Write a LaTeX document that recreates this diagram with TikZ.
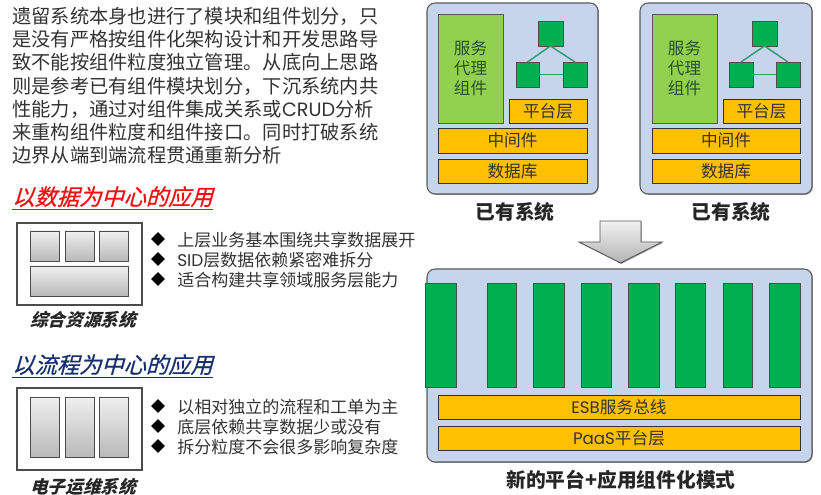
\documentclass[tikz,border=0pt]{standalone}
\usepackage{fontspec}
\usetikzlibrary{shapes.geometric,shadows}
\setmainfont{Noto Sans CJK SC}
\newfontfamily\latfont{Poppins}
\newfontfamily\slantfont[FakeSlant=0.28]{Noto Sans CJK SC}
\newfontfamily\titlefont[FakeSlant=0.28,FakeBold=0.7]{Noto Sans CJK SC}
\definecolor{panelblue}{HTML}{C6D5EC}
\definecolor{bargold}{HTML}{FFC000}
\definecolor{compgreen}{HTML}{00B050}
\definecolor{leafgreen}{HTML}{92D050}
\definecolor{linkgreen}{HTML}{2F9F6F}
\definecolor{bodygrey}{HTML}{333333}
\definecolor{darkred}{HTML}{F01010}
\definecolor{darknavy}{HTML}{17306F}
\tikzset{
	wd/.style={minimum width=#1*0.75pt},
	ht/.style={minimum height=#1*0.75pt},
	softshadow/.style={drop shadow={shadow xshift=0.7pt,shadow yshift=-0.7pt,opacity=0.35,fill=black}},
	panel/.style={draw=black!65,line width=0.8pt,rounded corners=6pt,fill=panelblue,inner sep=0pt,outer sep=0pt,softshadow},
	goldbar/.style={draw=black!80,line width=0.6pt,fill=bargold,inner sep=0pt,outer sep=0pt,font=\fontsize{12.5}{15}\selectfont,text=bodygrey,softshadow},
	leafbox/.style={draw=black!65,line width=0.5pt,fill=leafgreen,inner sep=0pt,outer sep=0pt,align=center,font=\fontsize{12.4}{15}\selectfont,text=bodygrey!85!green,softshadow},
	compbox/.style={draw=black!70,line width=0.6pt,fill=compgreen,inner sep=0pt,outer sep=0pt,softshadow},
	linkline/.style={draw=linkgreen,line width=1.1pt},
	framebox/.style={draw=black!70,line width=0.8pt,fill=white,inner sep=0pt,outer sep=0pt,softshadow},
	greybox/.style={draw=black!70,line width=0.6pt,top color=gray!12,bottom color=gray!55,inner sep=0pt,outer sep=0pt,softshadow},
	bulletmark/.style={diamond,fill=black,inner sep=0pt,minimum width=10.5pt,minimum height=10.5pt},
	bullettext/.style={anchor=west,inner sep=0pt,font=\fontsize{12.75}{15}\selectfont,text=bodygrey},
	headtext/.style={inner sep=0pt,font=\fontsize{14.8}{18}\selectfont\bfseries,text=black!85},
	apptitle/.style={anchor=west,inner sep=0pt,font=\fontsize{16.7}{20}\titlefont\selectfont},
	syscaption/.style={inner sep=0pt,font=\fontsize{13.2}{16}\slantfont\selectfont\bfseries,text=black!85}
}
\begin{document}
\begin{tikzpicture}[x=0.75pt,y=-0.75pt]
	\useasboundingbox (0,0) rectangle (821,495);
	% intro text
	\node[anchor=north west,inner sep=0pt,align=left,text=bodygrey,font=\fontsize{14.45}{17.4}\selectfont] (introtext) at (12,7) {遗留系统本身也进行了模块和组件划分，只\\是没有严格按组件化架构设计和开发思路导\\致不能按组件粒度独立管理。从底向上思路\\则是参考已有组件模块划分，下沉系统内共\\性能力，通过对组件集成关系或{\latfont CRUD}分析\\来重构组件粒度和组件接口。同时打破系统\\边界从端到端流程贯通重新分析};
	% data centred
	\node[apptitle,text=darkred] (datatitle) at (12,198) {\underline{以数据为中心的应用}};
	\node[framebox,wd=125,ht=82] (dataframe) at (79.5,264) {};
	\node[greybox,wd=29,ht=30] (dataone) at (44.5,246) {};
	\node[greybox,wd=29,ht=30] (datatwo) at (79.5,246) {};
	\node[greybox,wd=29,ht=30] (datathree) at (113.5,246) {};
	\node[greybox,wd=98,ht=30] (datawide) at (79,281) {};
	\node[syscaption] (datacaption) at (83,320) {综合资源系统};
	\node[bulletmark] (datamarkone) at (158,239) {};
	\node[bulletmark] (datamarktwo) at (158,259) {};
	\node[bulletmark] (datamarkthree) at (158,279) {};
	\node[bullettext] (datatextone) at (177,240) {上层业务基本围绕共享数据展开};
	\node[bullettext] (datatexttwo) at (177,260) {{\latfont SID}层数据依赖紧密难拆分};
	\node[bullettext] (datatextthree) at (177,280) {适合构建共享领域服务层能力};
	% flow centred
	\node[apptitle,text=darknavy] (flowtitle) at (12,366) {\underline{以流程为中心的应用}};
	\node[framebox,wd=125,ht=82] (flowframe) at (79.5,429) {};
	\node[greybox,wd=29,ht=60] (flowone) at (44.5,427) {};
	\node[greybox,wd=29,ht=60] (flowtwo) at (79.5,427) {};
	\node[greybox,wd=29,ht=60] (flowthree) at (113.5,427) {};
	\node[syscaption] (flowcaption) at (83,487) {电子运维系统};
	\node[bulletmark] (flowmarkone) at (158,406) {};
	\node[bulletmark] (flowmarktwo) at (158,426) {};
	\node[bulletmark] (flowmarkthree) at (158,446) {};
	\node[bullettext] (flowtextone) at (177,407) {以相对独立的流程和工单为主};
	\node[bullettext] (flowtexttwo) at (177,427) {底层依赖共享数据少或没有};
	\node[bullettext] (flowtextthree) at (177,447) {拆分粒度不会很多影响复杂度};
	% left system
	\node[panel,wd=171,ht=191] (leftpanel) at (512.5,98.5) {};
	\node[leafbox,wd=65,ht=109] (leftagent) at (470.5,68.5) {服务\\代理\\组件};
	\node[compbox,wd=25,ht=25] (lefttop) at (550.5,33.5) {};
	\node[compbox,wd=23,ht=25] (leftlow) at (527.5,74.5) {};
	\node[compbox,wd=24,ht=25] (leftside) at (575,74.5) {};
	\draw[linkline] (lefttop.south) -- (leftlow.north);
	\draw[linkline] (lefttop.south) -- (leftside.north);
	\draw[linkline] (leftlow.east) -- (leftside.west);
	\node[goldbar,wd=78,ht=24] (leftplatform) at (548,111) {平台层};
	\node[goldbar,wd=149,ht=25] (leftmiddle) at (512.5,140.5) {中间件};
	\node[goldbar,wd=149,ht=24] (leftdata) at (512.5,171) {数据库};
	\node[headtext] (leftlabel) at (515,212) {已有系统};
	% right system
	\node[panel,wd=172,ht=191] (rightpanel) at (726,98.5) {};
	\node[leafbox,wd=65,ht=109] (rightagent) at (684.5,68.5) {服务\\代理\\组件};
	\node[compbox,wd=25,ht=25] (righttop) at (764.5,33.5) {};
	\node[compbox,wd=24,ht=25] (rightlow) at (741,74.5) {};
	\node[compbox,wd=24,ht=25] (rightside) at (788,74.5) {};
	\draw[linkline] (righttop.south) -- (rightlow.north);
	\draw[linkline] (righttop.south) -- (rightside.north);
	\draw[linkline] (rightlow.east) -- (rightside.west);
	\node[goldbar,wd=77,ht=24] (rightplatform) at (761.5,111) {平台层};
	\node[goldbar,wd=148,ht=25] (rightmiddle) at (726,140.5) {中间件};
	\node[goldbar,wd=148,ht=24] (rightdata) at (726,171) {数据库};
	\node[headtext] (rightlabel) at (731,212) {已有系统};
	% block arrow
	\draw[draw=black!65,line width=0.7pt,top color=gray!10,bottom color=gray!60,softshadow] (600,221) -- (641,221) -- (641,242) -- (662,242) -- (620.5,263) -- (579,242) -- (600,242) -- cycle;
	% new platform
	\node[panel,wd=385,ht=193] (newpanel) at (619.5,365.5) {};
	\node[compbox,wd=31,ht=104] (barone) at (440.5,335) {};
	\node[compbox,wd=29,ht=104] (bartwo) at (501.5,335) {};
	\node[compbox,wd=31,ht=104] (barthree) at (548.5,335) {};
	\node[compbox,wd=30,ht=104] (barfour) at (596,335) {};
	\node[compbox,wd=31,ht=104] (barfive) at (643.5,335) {};
	\node[compbox,wd=30,ht=104] (barsix) at (690,335) {};
	\node[compbox,wd=29,ht=104] (barseven) at (737.5,335) {};
	\node[compbox,wd=31,ht=104] (bareight) at (784.5,335) {};
	\node[goldbar,wd=362,ht=24] (esbbar) at (619,407) {{\latfont ESB}服务总线};
	\node[goldbar,wd=362,ht=24] (paasbar) at (619,438) {{\latfont PaaS}平台层};
	\node[headtext] (newlabel) at (621,480) {新的平台+应用组件化模式};
\end{tikzpicture}
\end{document}
